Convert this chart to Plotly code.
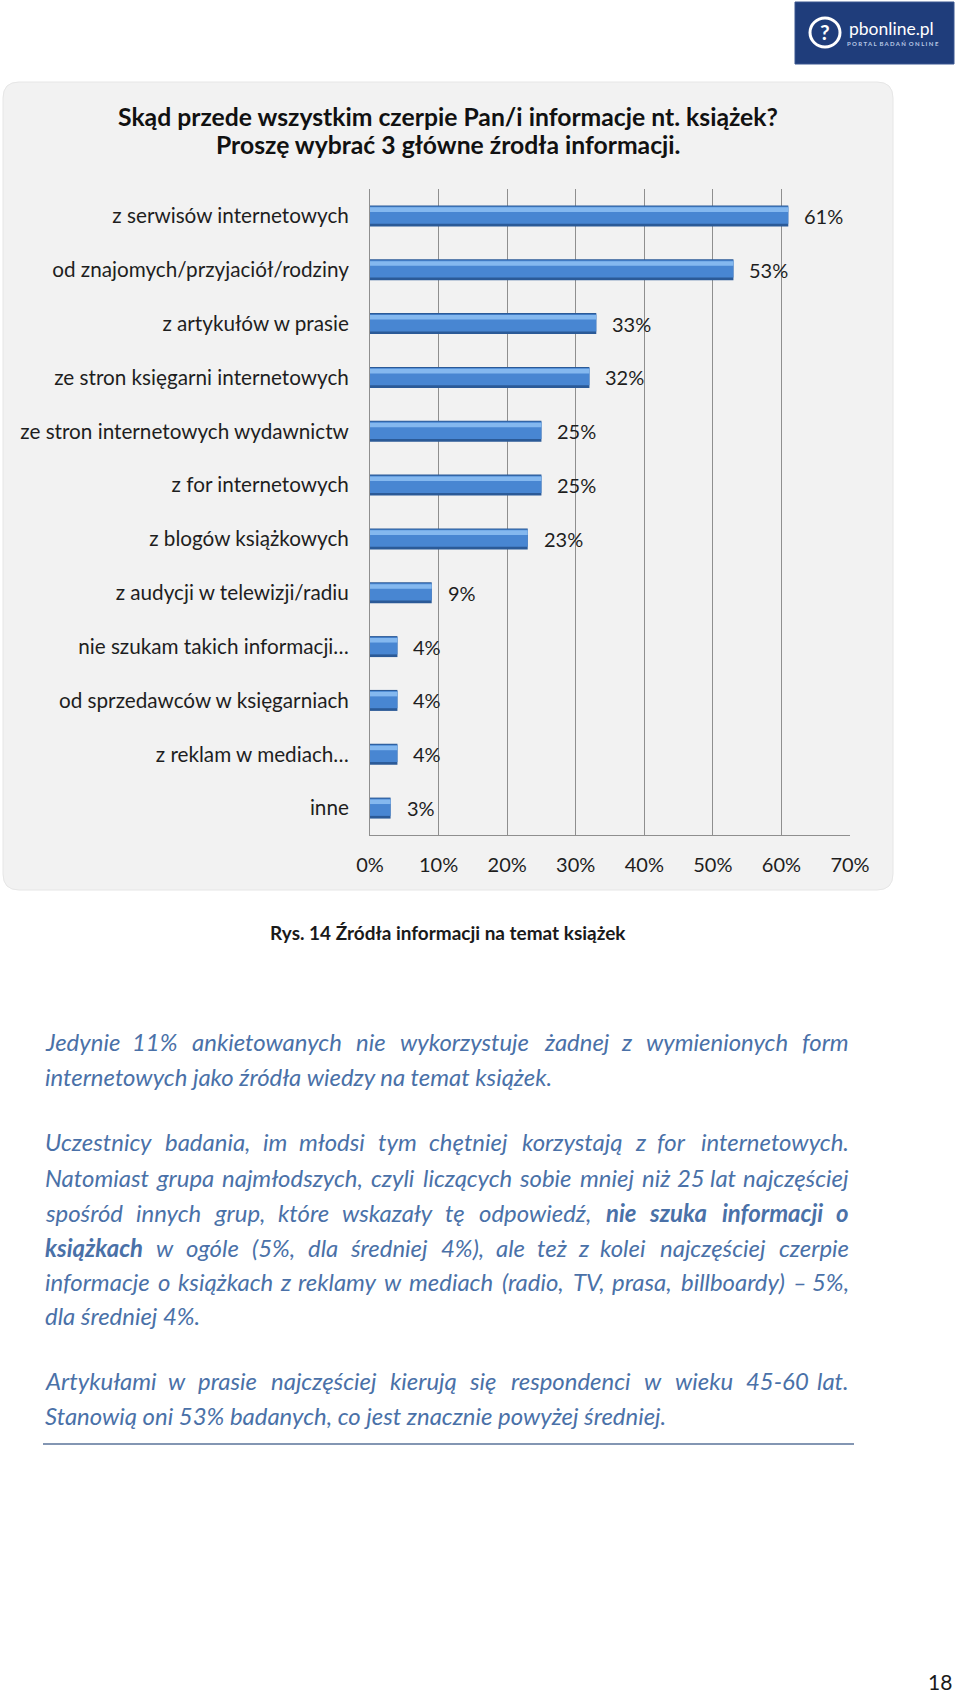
import plotly.graph_objects as go

# ---------------- data ----------------
categories = [
    "z serwisów internetowych",
    "od znajomych/przyjaciół/rodziny",
    "z artykułów w prasie",
    "ze stron księgarni internetowych",
    "ze stron internetowych wydawnictw",
    "z for internetowych",
    "z blogów książkowych",
    "z audycji w telewizji/radiu",
    "nie szukam takich informacji…",
    "od sprzedawców w księgarniach",
    "z reklam w mediach…",
    "inne",
]
values = [61, 53, 33, 32, 25, 25, 23, 9, 4, 4, 4, 3]
value_labels = ["61%", "53%", "33%", "32%", "25%", "25%", "23%", "9%", "4%", "4%", "4%", "3%"]
x_tick_values = [0, 10, 20, 30, 40, 50, 60, 70]
x_tick_labels = ["0%", "10%", "20%", "30%", "40%", "50%", "60%", "70%"]

title_lines = ["Skąd przede wszystkim czerpie Pan/i informacje nt. książek?",
               "Proszę wybrać 3 główne źrodła informacji."]
caption = "Rys. 14 Źródła informacji na temat książek"

# (y pixel, text, justified)
para_lines = [
    (1041, "Jedynie 11% ankietowanych nie wykorzystuje żadnej z wymienionych form", True),
    (1076, "internetowych jako źródła wiedzy na temat książek.", False),
    (1141, "Uczestnicy badania, im młodsi tym chętniej korzystają z for internetowych.", True),
    (1177, "Natomiast grupa najmłodszych, czyli liczących sobie mniej niż 25 lat najczęściej", True),
    (1212, "spośród innych grup, które wskazały tę odpowiedź, <b>nie</b> <b>szuka</b> <b>informacji</b> <b>o</b>", True),
    (1247, "<b>książkach</b> w ogóle (5%, dla średniej 4%), ale też z kolei najczęściej czerpie", True),
    (1281, "informacje o książkach z reklamy w mediach (radio, TV, prasa, billboardy) – 5%,", True),
    (1315, "dla średniej 4%.", False),
    (1380, "Artykułami w prasie najczęściej kierują się respondenci w wieku 45-60 lat.", True),
    (1415, "Stanowią oni 53% badanych, co jest znacznie powyżej średniej.", False),
]

# ---------------- helpers ----------------
W, H = 960, 1696


def X(px):
    return px / W


def Y(py):
    return 1 - py / H


LOW = {'a': .50, 'b': .55, 'c': .45, 'd': .55, 'e': .51, 'f': .31, 'g': .49, 'h': .55, 'i': .24,
       'j': .24, 'k': .49, 'l': .24, 'm': .82, 'n': .55, 'o': .55, 'p': .55, 'q': .55, 'r': .36,
       's': .41, 't': .34, 'u': .55, 'v': .50, 'w': .76, 'x': .49, 'y': .50, 'z': .45}
PL = {'ą': 'a', 'ę': 'e', 'ó': 'o', 'ś': 's', 'ć': 'c', 'ń': 'n', 'ż': 'z', 'ź': 'z', 'Ź': 'Z', 'Ś': 'S'}
UP = {'I': .28, 'J': .40, 'T': .58, 'S': .51, 'N': .75, 'A': .67, 'U': .72, 'V': .67, 'P': .60,
      'R': .62, 'Z': .58}
PUN = {' ': .19, ',': .21, '.': .21, '(': .30, ')': .30, '-': .33, '–': .56, '/': .37, '?': .45,
       '%': .80, '…': .80, 'ł': .27}


def est(text):
    bold = "<b>" in text
    t = text.replace("<b>", "").replace("</b>", "")
    s = 0.0
    for ch in t:
        ch = PL.get(ch, ch)
        if ch in LOW:
            s += LOW[ch]
        elif ch in PUN:
            s += PUN[ch]
        elif ch.isdigit():
            s += .58
        elif ch.isupper():
            s += UP.get(ch, .65)
        else:
            s += .5
    return s * (1.05 if bold else 1.0)


FONT = "Lato"
TEXT_DARK = "#1e1e1e"
PARA_COLOR = "#4a71a8"
GRID = "#8f8f8f"

fig = go.Figure()

# bevel-looking bars: three overlaid layers per bar
bar_layers = [("#2b5a97", -0.195, 0.39), ("#4886d2", -0.175, 0.32), ("#84b8ef", -0.16, 0.085)]
for color, off, wid in bar_layers:
    fig.add_trace(go.Bar(
        x=values, y=categories, orientation="h",
        marker=dict(color=color, line=dict(width=0)),
        width=wid, offset=off, hoverinfo="skip", showlegend=False,
    ))

annotations = []
for v, c, lab in zip(values, categories, value_labels):
    annotations.append(dict(x=v, y=c, xref="x", yref="y", text=lab, showarrow=False,
                            xanchor="left", yanchor="middle", xshift=14,
                            font=dict(family=FONT, size=20, color=TEXT_DARK)))

# titles
t_size = 0.985 * 665 / est("<b>" + title_lines[0] + "</b>")
annotations.append(dict(x=X(448), y=Y(117), xref="paper", yref="paper", showarrow=False,
                        text="<b>" + title_lines[0] + "</b>", xanchor="center", yanchor="middle",
                        font=dict(family=FONT, size=t_size, color="#111111")))
annotations.append(dict(x=X(448), y=Y(145), xref="paper", yref="paper", showarrow=False,
                        text="<b>" + title_lines[1] + "</b>", xanchor="center", yanchor="middle",
                        font=dict(family=FONT, size=t_size, color="#111111")))

# caption
c_size = 1.0 * 354 / est("<b>" + caption + "</b>")
annotations.append(dict(x=X(448), y=Y(932), xref="paper", yref="paper", showarrow=False,
                        text="<b>" + caption + "</b>", xanchor="center", yanchor="middle",
                        font=dict(family=FONT, size=c_size, color="#1a1a1a")))

# paragraphs
p_size = 1.015 * 624 / est(para_lines[-1][1])
L, R = 43, 851
for py, line, just in para_lines:
    pfont = dict(family=FONT, size=p_size, color=PARA_COLOR)
    if not just:
        annotations.append(dict(x=X(L), y=Y(py), xref="paper", yref="paper", showarrow=False,
                                text="<i>" + line + "</i>", xanchor="left", yanchor="middle", font=pfont))
        continue
    words = line.split(" ")
    widths = [est(w) * p_size for w in words]
    gap = (R - L - sum(widths)) / (len(words) - 1)
    cur = L
    for i, (wd, ww) in enumerate(zip(words, widths)):
        if i == 0:
            xa, xp = "left", cur
        elif i == len(words) - 1:
            xa, xp = "right", R
        else:
            xa, xp = "center", cur + ww / 2
        annotations.append(dict(x=X(xp), y=Y(py), xref="paper", yref="paper", showarrow=False,
                                text="<i>" + wd + "</i>", xanchor=xa, yanchor="middle", font=pfont))
        cur += ww + gap

# page number
annotations.append(dict(x=X(954), y=Y(1681), xref="paper", yref="paper", showarrow=False,
                        text="18", xanchor="right", yanchor="middle",
                        font=dict(family=FONT, size=21, color="#1a1a1a")))

# logo texts
annotations.append(dict(x=X(825), y=Y(32), xref="paper", yref="paper", showarrow=False,
                        text="<b>?</b>", xanchor="center", yanchor="middle",
                        font=dict(family=FONT, size=21, color="white")))
annotations.append(dict(x=X(891), y=Y(29), xref="paper", yref="paper", showarrow=False,
                        text="pbonline.pl", xanchor="center", yanchor="middle",
                        font=dict(family=FONT, size=17.5, color="white")))
annotations.append(dict(x=X(893), y=Y(44), xref="paper", yref="paper", showarrow=False,
                        text="<b>P O R T A L  B A D A Ń  O N L I N E</b>", xanchor="center", yanchor="middle",
                        font=dict(family=FONT, size=6, color="#b9c9e6")))

# ---------------- shapes ----------------
x0, x1, y0, y1, r = 3, 893, 82, 890, 16
panel_path = (
    f"M {X(x0 + r)},{Y(y0)} L {X(x1 - r)},{Y(y0)} Q {X(x1)},{Y(y0)} {X(x1)},{Y(y0 + r)} "
    f"L {X(x1)},{Y(y1 - r)} Q {X(x1)},{Y(y1)} {X(x1 - r)},{Y(y1)} "
    f"L {X(x0 + r)},{Y(y1)} Q {X(x0)},{Y(y1)} {X(x0)},{Y(y1 - r)} "
    f"L {X(x0)},{Y(y0 + r)} Q {X(x0)},{Y(y0)} {X(x0 + r)},{Y(y0)} Z"
)
shapes = [
    dict(type="path", path=panel_path, xref="paper", yref="paper", layer="below",
         fillcolor="#f2f2f2", line=dict(color="#e6e6e6", width=1)),
    # logo box
    dict(type="rect", xref="paper", yref="paper", x0=X(795), x1=X(954), y0=Y(64), y1=Y(2),
         fillcolor="#1f3d7b", line=dict(color="#3a5690", width=1), layer="below"),
    dict(type="circle", xref="paper", yref="paper", x0=X(810), x1=X(840), y0=Y(47), y1=Y(18),
         fillcolor="rgba(0,0,0,0)", line=dict(color="white", width=3)),
    # rule under text
    dict(type="line", xref="paper", yref="paper", x0=X(43), x1=X(854), y0=Y(1444), y1=Y(1444),
         line=dict(color="#8396b3", width=2)),
]

fig.update_layout(
    width=W, height=H, margin=dict(l=0, r=0, t=0, b=0, pad=0, autoexpand=False),
    paper_bgcolor="white", plot_bgcolor="rgba(0,0,0,0)",
    barmode="overlay", showlegend=False,
    annotations=annotations, shapes=shapes,
    xaxis=dict(domain=[X(370), X(850)], range=[0, 70], tickvals=x_tick_values, ticktext=x_tick_labels,
               showgrid=True, gridcolor=GRID, gridwidth=1, zeroline=False, automargin=False,
               showline=True, linecolor=GRID, linewidth=1, ticks="",
               ticklabelstandoff=12,
               tickfont=dict(family=FONT, size=20, color=TEXT_DARK), fixedrange=True),
    yaxis=dict(domain=[Y(835), Y(189)], type="category", categoryorder="array", categoryarray=categories,
               autorange="reversed", showgrid=False, zeroline=False, automargin=False,
               showline=True, linecolor=GRID, linewidth=1, ticks="",
               ticklabelstandoff=16,
               tickfont=dict(family=FONT, size=20.7, color=TEXT_DARK), fixedrange=True),
)

fig.write_html("out.html")
